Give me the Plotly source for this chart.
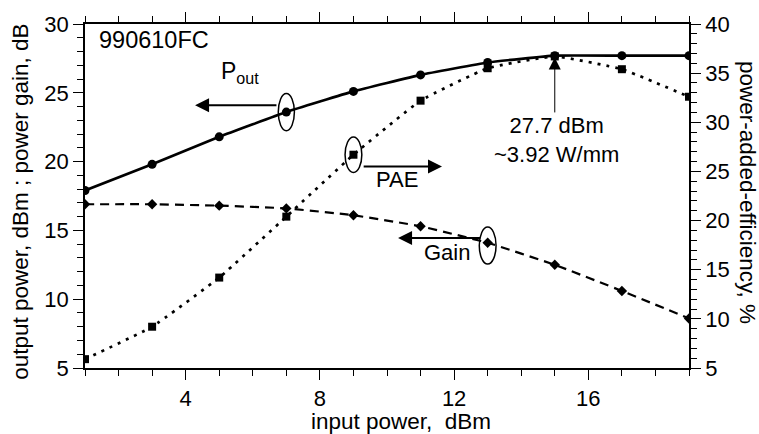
import plotly.graph_objects as go

# ---- data ----
pin = [1, 3, 5, 7, 9, 11, 13, 15, 17, 19]
pout = [17.9, 19.8, 21.8, 23.6, 25.1, 26.3, 27.2, 27.7, 27.7, 27.7]
gain = [16.9, 16.9, 16.8, 16.6, 16.1, 15.3, 14.1, 12.5, 10.6, 8.6]
pae = [5.9, 9.2, 14.2, 20.4, 26.7, 32.2, 35.5, 36.7, 35.4, 32.6]

FONT = "Liberation Sans, Arial, sans-serif"

fig = go.Figure()
fig.add_trace(go.Scatter(x=pin, y=pout, mode="lines+markers", line=dict(color="black", width=2.7, shape="spline", smoothing=0.35),
                         marker=dict(symbol="circle", size=9, color="black"), showlegend=False))
fig.add_trace(go.Scatter(x=pin, y=gain, mode="lines+markers", line=dict(color="black", width=2.2, dash="9px,6px", shape="spline", smoothing=0.35),
                         marker=dict(symbol="diamond", size=8, color="black"), showlegend=False))
fig.add_trace(go.Scatter(x=pin, y=pae, mode="lines+markers", yaxis="y2",
                         line=dict(color="black", width=2.7, dash="3px,6px", shape="spline", smoothing=0.35),
                         marker=dict(symbol="square", size=8, color="black"), showlegend=False))

axis_common = dict(showgrid=False, zeroline=False, showline=True, linecolor="black", linewidth=1.5,
                   ticks="outside", ticklen=10, tickwidth=1, tickcolor="black",
                   tickfont=dict(family=FONT, size=22, color="black"))

fig.update_layout(
    width=759, height=434,
    margin=dict(l=85, r=70, t=16, b=66),
    plot_bgcolor="white", paper_bgcolor="white",
    xaxis=dict(range=[1, 19], tick0=0, dtick=4, mirror="ticks",
               minor=dict(dtick=1, ticklen=6, tickcolor="black", ticks="outside", showgrid=False),
               **axis_common),
    yaxis=dict(range=[5, 30], tick0=0, dtick=5,
               minor=dict(dtick=1, ticklen=6, tickcolor="black", ticks="outside", showgrid=False),
               **axis_common),
    yaxis2=dict(range=[5, 40], tick0=0, dtick=5, overlaying="y", side="right",
                minor=dict(dtick=1, ticklen=6, tickcolor="black", ticks="outside", showgrid=False),
                **axis_common),
)

# ---- ellipses around marked points ----
def ellipse(xc, yc, hw, hh, yref):
    fig.add_shape(type="circle", xref="x", yref=yref, x0=xc - hw, x1=xc + hw, y0=yc - hh, y1=yc + hh,
                  line=dict(color="black", width=1.5))

ellipse(pin[3], pout[3], 0.24, 1.35, "y")
ellipse(pin[4], pae[4], 0.25, 1.8, "y2")
ellipse(pin[6], gain[6] - 0.2, 0.25, 1.34, "y")

# ---- arrows ----
def arrow(x, y, ax, ay, yref, width=2, size=1.4):
    fig.add_annotation(x=x, y=y, ax=ax, ay=ay, xref="x", yref=yref, axref="x", ayref=yref,
                       showarrow=True, arrowhead=2, arrowsize=size, arrowwidth=width, arrowcolor="black", text="")

arrow(4.28, 24.1, 6.75, 24.1, "y")
arrow(11.64, 25.5, 9.26, 25.5, "y2")
arrow(10.33, 14.45, 12.83, 14.45, "y")
arrow(15.0, 36.6, 15.0, 30.85, "y2", width=1, size=2.4)

# ---- texts ----
def text(x, y, s, yref="y", xanchor="center", size=22, xref="x", angle=0):
    fig.add_annotation(x=x, y=y, xref=xref, yref=yref, text=s, showarrow=False, xanchor=xanchor, yanchor="middle",
                       textangle=angle, font=dict(family=FONT, size=size, color="black"))

text(1.36, 28.85, "990610FC", xanchor="left", size=23.5)
text(5.0, 26.45, "P<sub>out</sub>", xanchor="left", size=23)
text(10.3, 24.2, "PAE", yref="y2")
text(11.79, 13.4, "Gain")
text(15.05, 28.2, "27.7 dBm<br>~3.92 W/mm", yref="y2")

# axis titles
fig.add_annotation(x=(401 - 85) / 604, y=-(423 - 368) / 352, xref="paper", yref="paper",
                   text="input power,\u00a0 dBm", showarrow=False, xanchor="center", yanchor="middle",
                   font=dict(family=FONT, size=22.5, color="black"))
fig.add_annotation(x=-(85 - 21) / 604, y=(368 - 198) / 352, xref="paper", yref="paper",
                   text="output power, dBm ; power gain, dB", showarrow=False, textangle=-90,
                   xanchor="center", yanchor="middle", font=dict(family=FONT, size=22.5, color="black"))
fig.add_annotation(x=1 + (748 - 689) / 604, y=(368 - 189) / 352, xref="paper", yref="paper",
                   text="power-added-efficiency, %", showarrow=False, textangle=90,
                   xanchor="center", yanchor="middle", font=dict(family=FONT, size=22.5, color="black"))

fig.write_html("out.html")
